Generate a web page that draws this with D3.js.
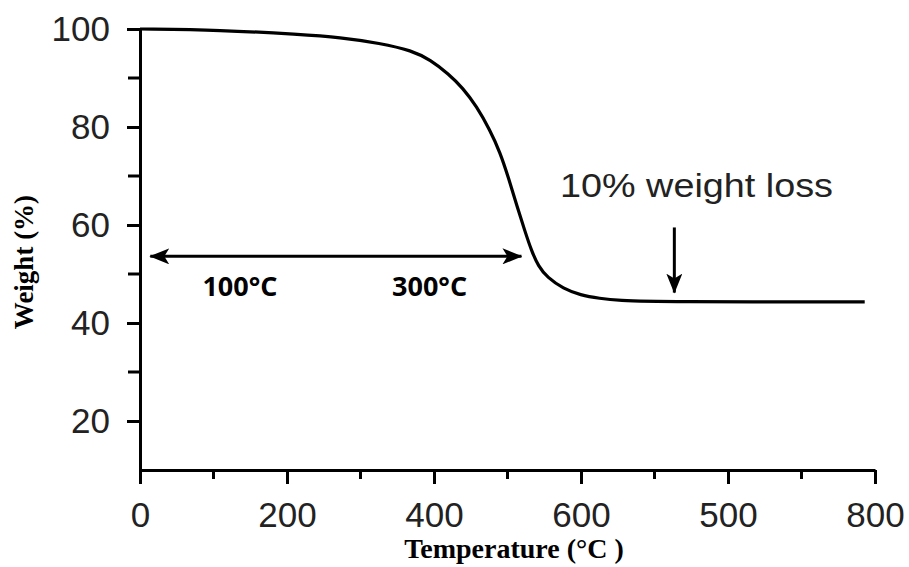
<!DOCTYPE html>
<html>
<head>
<meta charset="utf-8">
<script src="https://cdn.jsdelivr.net/npm/d3@7"></script>
<style>
  body { margin: 0; background: #fff; }
</style>
</head>
<body>
<div id="chart"></div>
<script>
// TGA curve (x in axis position units, y in weight %)
const temps = [0, 109, 218, 272, 327, 370, 395, 420, 439, 458, 476, 490, 501, 513, 524, 533, 542, 554, 576, 599, 626, 649, 712, 986];
const weights = [100, 99.8, 98.9, 98.3, 97.1, 95.6, 93.7, 90.8, 88.0, 84.2, 79.4, 74.8, 69.8, 63.8, 58.6, 54.6, 51.6, 49.3, 47.0, 45.7, 45.0, 44.6, 44.3, 44.3];

// tick labels as printed on the original axis
const xTickValues = [0, 200, 400, 600, 800, 1000];
const xTickLabels = ['0', '200', '400', '600', '500', '800'];
const xMinorTicks = [100, 300, 500, 700, 900];
const yTickValues = [20, 40, 60, 80, 100];
const yMinorTicks = [30, 50, 70, 90];

// annotations
const spanArrow = { x1: 14, x2: 519, y: 53.6 };
const spanLabels = [
  { x: 136, text: '100°C' },
  { x: 394, text: '300°C' }
];
const lossArrow = { x: 727, yTop: 59.5, yTip: 46.2 };
const lossLabel = '10% weight loss';

const width = 909,
  height = 567;

const svg = d3
  .select('#chart')
  .append('svg')
  .attr('width', width)
  .attr('height', height);

let x = d3.scaleLinear().domain([0, 1000]).range([140, 875]);
let y = d3.scaleLinear().domain([10, 100]).range([470, 29]);

const data = temps.map((t, i) => ({ t: t, w: weights[i] }));

// axes
let xAxis = (g) =>
  g
    .attr('transform', `translate(0,${y(10)})`)
    .call(
      d3
        .axisBottom(x)
        .tickValues(xTickValues)
        .tickSize(14)
        .tickSizeOuter(0)
        .tickPadding(18)
        .tickFormat((d, i) => xTickLabels[i])
    )
    .call((g) => g.select('.domain').attr('stroke-width', 3))
    .call((g) => g.selectAll('.tick line').attr('stroke-width', 3))
    .call((g) =>
      g
        .selectAll('.tick text')
        .attr('font-family', 'Liberation Sans, Arial, sans-serif')
        .attr('font-size', 35)
        .attr('fill', '#222')
    );

let yAxis = (g) =>
  g
    .attr('transform', `translate(${x(0)},0)`)
    .call(
      d3
        .axisLeft(y)
        .tickValues(yTickValues)
        .tickSize(13)
        .tickSizeOuter(0)
        .tickPadding(17)
    )
    .call((g) => g.select('.domain').attr('stroke-width', 3))
    .call((g) => g.selectAll('.tick line').attr('stroke-width', 3))
    .call((g) =>
      g
        .selectAll('.tick text')
        .attr('font-family', 'Liberation Sans, Arial, sans-serif')
        .attr('font-size', 35)
        .attr('fill', '#222')
    );

svg.append('g').call(xAxis);
svg.append('g').call(yAxis);

// minor ticks
svg
  .append('g')
  .selectAll('line')
  .data(xMinorTicks)
  .join('line')
  .attr('x1', (d) => x(d))
  .attr('x2', (d) => x(d))
  .attr('y1', y(10))
  .attr('y2', y(10) + 9)
  .attr('stroke', 'black')
  .attr('stroke-width', 3);

svg
  .append('g')
  .selectAll('line')
  .data(yMinorTicks)
  .join('line')
  .attr('x1', x(0))
  .attr('x2', x(0) - 12)
  .attr('y1', (d) => y(d))
  .attr('y2', (d) => y(d))
  .attr('stroke', 'black')
  .attr('stroke-width', 3);

// axis titles
svg
  .append('text')
  .attr('transform', `translate(33,262) rotate(-90)`)
  .attr('text-anchor', 'middle')
  .attr('font-family', 'Liberation Serif, Times New Roman, serif')
  .attr('font-weight', 'bold')
  .attr('font-size', 27)
  .text('Weight (%)');

svg
  .append('text')
  .attr('x', 514)
  .attr('y', 558)
  .attr('text-anchor', 'middle')
  .attr('font-family', 'Liberation Serif, Times New Roman, serif')
  .attr('font-weight', 'bold')
  .attr('font-size', 28)
  .text('Temperature (°C )');

// curve
let line = d3
  .line()
  .curve(d3.curveBasis)
  .x((d) => x(d.t))
  .y((d) => y(d.w));

svg
  .append('path')
  .datum(data)
  .attr('fill', 'none')
  .attr('stroke', 'black')
  .attr('stroke-width', 3.2)
  .attr('stroke-linejoin', 'round')
  .attr('d', line);

// arrow heads
const defs = svg.append('defs');
defs
  .append('marker')
  .attr('id', 'head')
  .attr('viewBox', '0 0 20 16')
  .attr('refX', 19)
  .attr('refY', 8)
  .attr('markerWidth', 20)
  .attr('markerHeight', 16)
  .attr('markerUnits', 'userSpaceOnUse')
  .attr('orient', 'auto-start-reverse')
  .append('path')
  .attr('d', 'M0,0 L20,8 L0,16 L5,8 Z')
  .attr('fill', 'black');

svg
  .append('line')
  .attr('x1', x(spanArrow.x1))
  .attr('x2', x(spanArrow.x2))
  .attr('y1', y(spanArrow.y))
  .attr('y2', y(spanArrow.y))
  .attr('stroke', 'black')
  .attr('stroke-width', 3)
  .attr('marker-start', 'url(#head)')
  .attr('marker-end', 'url(#head)');

svg
  .append('g')
  .selectAll('text')
  .data(spanLabels)
  .join('text')
  .attr('x', (d) => x(d.x))
  .attr('y', y(spanArrow.y) + 40)
  .attr('text-anchor', 'middle')
  .attr('font-family', 'Open Sans, Noto Sans, sans-serif')
  .attr('font-weight', 'bold')
  .attr('font-size', 27)
  .text((d) => d.text);

svg
  .append('line')
  .attr('x1', x(lossArrow.x))
  .attr('x2', x(lossArrow.x))
  .attr('y1', y(lossArrow.yTop))
  .attr('y2', y(lossArrow.yTip))
  .attr('stroke', 'black')
  .attr('stroke-width', 3)
  .attr('marker-end', 'url(#head)');

svg
  .append('text')
  .attr('x', 560)
  .attr('y', 197)
  .attr('font-family', 'Liberation Sans, Arial, sans-serif')
  .attr('font-size', 33)
  .attr('textLength', 273)
  .attr('lengthAdjust', 'spacingAndGlyphs')
  .attr('fill', '#222')
  .text(lossLabel);
</script>
</body>
</html>
